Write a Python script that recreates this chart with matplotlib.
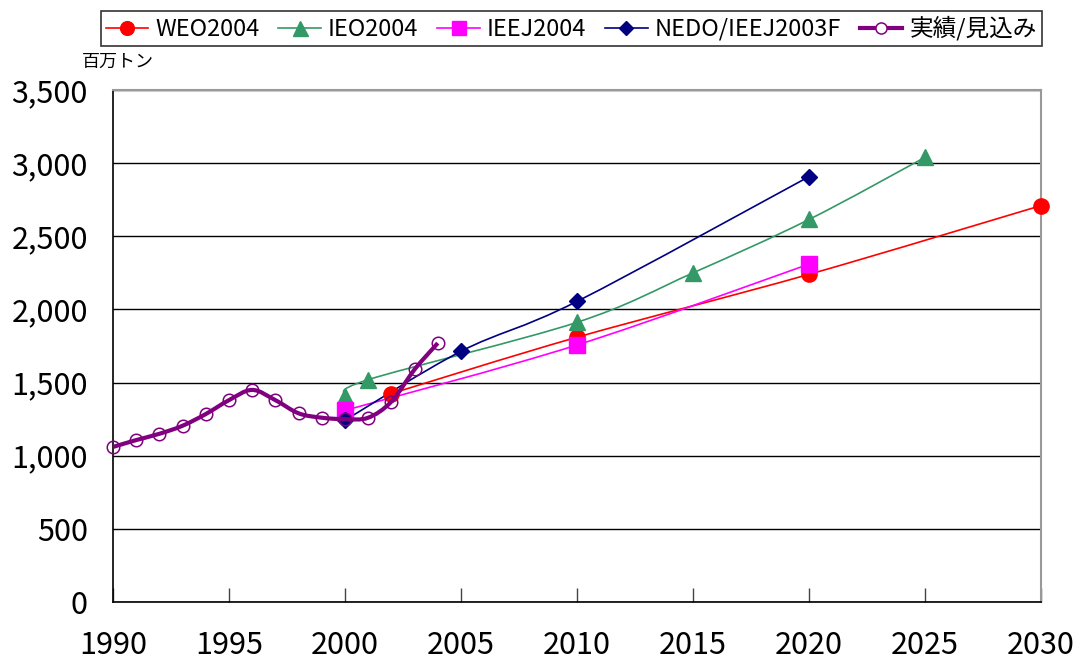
import numpy as np
import matplotlib.pyplot as plt
from matplotlib.path import Path
from matplotlib.patches import PathPatch
from matplotlib.lines import Line2D

plt.rcParams['font.family'] = ['Noto Sans CJK JP', 'DejaVu Sans']

# ____________________________________________________________________________
# Data (million tonnes)

hist_years = [1990, 1991, 1992, 1993, 1994, 1995, 1996, 1997, 1998, 1999,
              2000, 2001, 2002, 2003, 2004]
hist_vals = [1060, 1107, 1150, 1205, 1285, 1380, 1450, 1380, 1290, 1260,
             1250, 1260, 1370, 1590, 1770]

weo_years = [2002, 2010, 2020, 2030]
weo_vals = [1425, 1810, 2240, 2710]

ieo_years = [2000, 2001, 2010, 2015, 2020, 2025]
ieo_vals = [1410, 1520, 1912, 2250, 2615, 3040]

ieej_years = [2000, 2010, 2020]
ieej_vals = [1310, 1757, 2310]

nedo_years = [2000, 2005, 2010, 2020]
nedo_vals = [1242, 1714, 2055, 2908]

x_ticks = [1990, 1995, 2000, 2005, 2010, 2015, 2020, 2025, 2030]
y_ticks = [0, 500, 1000, 1500, 2000, 2500, 3000, 3500]


def smooth_path(xs, ys, tension=1 / 6):
    """Excel-like smoothed line: cubic Bezier segments through the points."""
    p = np.column_stack([xs, ys]).astype(float)
    verts = [p[0]]
    codes = [Path.MOVETO]
    n = len(p)
    for i in range(n - 1):
        p0 = p[i - 1] if i > 0 else p[i]
        p3 = p[i + 2] if i + 2 < n else p[i + 1]
        c1 = p[i] + (p[i + 1] - p0) * tension
        c2 = p[i + 1] - (p3 - p[i]) * tension
        verts += [c1, c2, p[i + 1]]
        codes += [Path.CURVE4] * 3
    return Path(verts, codes)


fig = plt.figure(figsize=(10.8, 6.62), dpi=100)
ax = fig.add_axes([0.1046, 0.0906, 0.8593, 0.7734])

series = [
    (weo_years, weo_vals, 'red', 'o', 11, 1.2, 'WEO2004'),
    (ieo_years, ieo_vals, '#339966', '^', 12, 1.2, 'IEO2004'),
    (ieej_years, ieej_vals, 'magenta', 's', 11, 1.2, 'IEEJ2004'),
    (nedo_years, nedo_vals, '#000080', 'D', 8, 1.2, 'NEDO/IEEJ2003F'),
]

handles = []
for xs, ys, col, mk, ms, lw, lab in series:
    ax.add_patch(PathPatch(smooth_path(xs, ys), fill=False, edgecolor=col, lw=lw, zorder=3))
    ax.plot(xs, ys, ls='none', marker=mk, ms=ms, color=col, mec=col, zorder=4, clip_on=False)
    handles.append(Line2D([], [], color=col, lw=lw, marker=mk, ms=ms * 0.9, label=lab))

# Actual / estimated
hist_col = '#800080'
ax.add_patch(PathPatch(smooth_path(hist_years, hist_vals), fill=False,
                       edgecolor=hist_col, lw=3, zorder=5))
ax.plot(hist_years, hist_vals, ls='none', marker='o', ms=9, mfc='none',
        mec=hist_col, mew=1.1, zorder=6, clip_on=False)
handles.append(Line2D([], [], color=hist_col, lw=3, marker='o', ms=8, mfc='white',
                      mec=hist_col, mew=1.1, label='実績/見込み'))

ax.set_xlim(1990, 2030)
ax.set_ylim(0, 3500)
ax.set_xticks(x_ticks)
ax.set_yticks(y_ticks)
ax.set_yticklabels([f'{v:,}' for v in y_ticks])
ax.tick_params(axis='x', direction='in', length=10, width=1, pad=20, labelsize=22, color='#444444')
ax.tick_params(axis='y', length=0, pad=18, labelsize=22)
ax.yaxis.grid(True, color='black', lw=1)
ax.set_axisbelow(True)

for side in ['top', 'right']:
    ax.spines[side].set_color('#999999')
    ax.spines[side].set_linewidth(1.5)
for side in ['left', 'bottom']:
    ax.spines[side].set_color('black')
    ax.spines[side].set_linewidth(1.2)

fig.text(0.076, 0.893, '百万トン', fontsize=13, ha='left', va='bottom')

leg = fig.legend(handles=handles, loc='center', bbox_to_anchor=(0.529, 0.957), ncol=5,
                 fontsize=17, frameon=True, fancybox=False, edgecolor='black',
                 handlelength=1.8, handletextpad=0.3, columnspacing=0.8,
                 borderpad=0.2, borderaxespad=0)
leg.get_frame().set_linewidth(1.2)

fig.savefig('out.png', dpi=100)
